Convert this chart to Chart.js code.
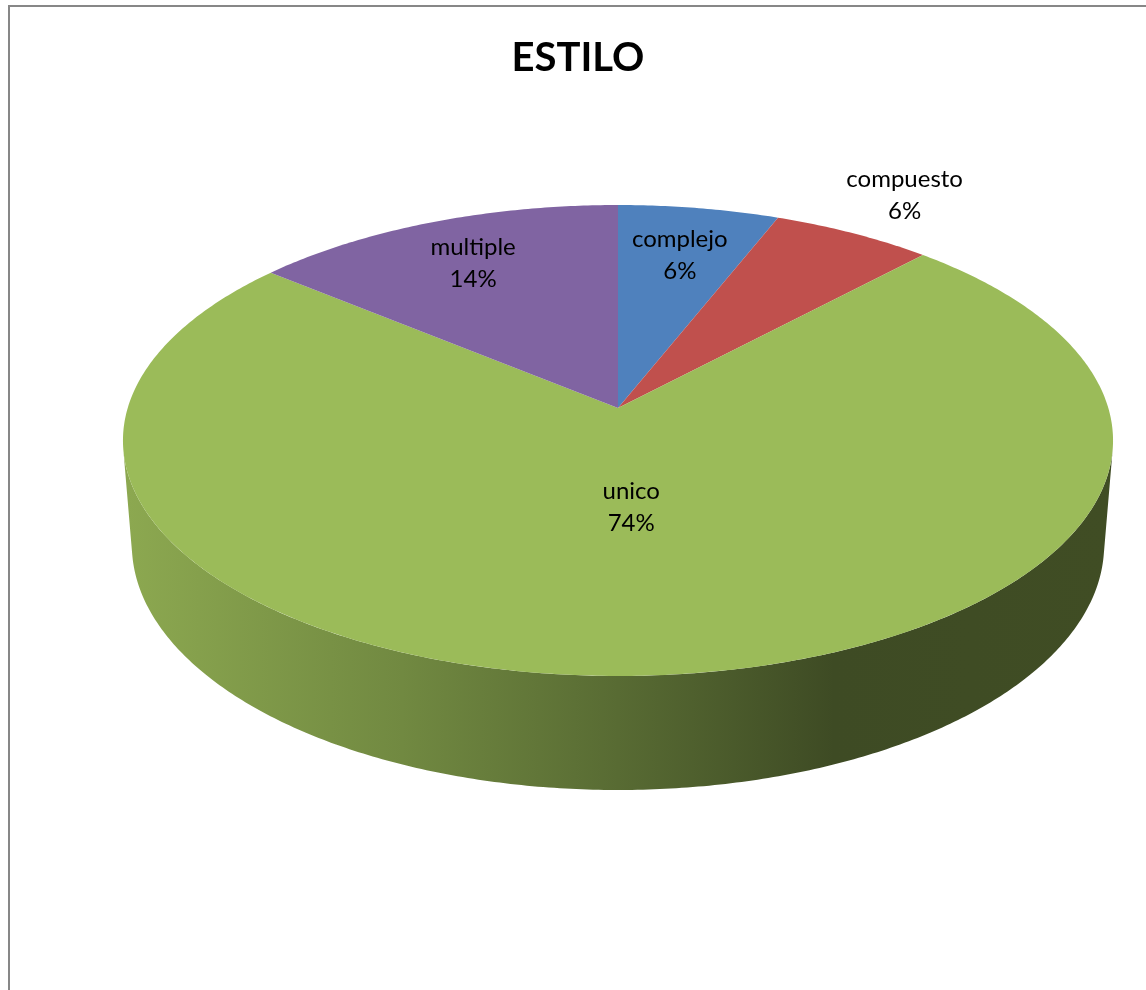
<!DOCTYPE html>
<html>
<head>
<meta charset="utf-8">
<script src="https://cdn.jsdelivr.net/npm/chart.js@4.4.1/dist/chart.umd.min.js"></script>
<style>
  html, body { margin: 0; padding: 0; background: #fff; overflow: hidden; }
  #frame { position: absolute; left: 8px; top: 5px; width: 1300px; height: 1200px;
           border: 2px solid #878787; box-sizing: border-box; }
  #wrap { position: absolute; left: 0; top: 0; width: 1146px; height: 990px; }
  #title { position: absolute; left: 0; top: 32px; width: 1156px; text-align: center;
           font: bold 40px/48px Lato, sans-serif; color: #000; }
</style>
</head>
<body>
<div id="frame"></div>
<div id="wrap"><canvas id="theChart" width="1146" height="990"></canvas></div>
<div id="title">ESTILO</div>
<script>
// ---- Data ----
const categories = ['complejo', 'compuesto', 'unico', 'multiple'];
const counts = [3, 3, 37, 7];

// ---- Look ----
const sliceColors = ['#4f81bd', '#c0504d', '#9bbb59', '#8064a2'];
// how far out along each slice its label sits (fraction of radius)
const labelRadius = [0.74, 1.25, 0.405, 0.76];
// side wall shading, left -> right (multiplier on slice colour)
const sideShade = [[0, 0.9], [0.28, 0.73], [0.5, 0.57], [0.72, 0.40], [1, 0.41]];

// 3D view: tilt of the pie plane, camera distance, focal length, wall height
const VIEW = { sin: 0.4711, cos: 0.8821, dist: 6.392, focal: 3134, height: 0.2431 };

const total = counts.reduce((a, b) => a + b, 0);

function shade(hex, k) {
  const n = parseInt(hex.slice(1), 16);
  const r = Math.round(((n >> 16) & 255) * k);
  const g = Math.round(((n >> 8) & 255) * k);
  const b = Math.round((n & 255) * k);
  return `rgb(${r},${g},${b})`;
}

// flat pie coords -> perspective screen coords (w = height above the top face, in radii)
function makeProjector(ox, oy, R) {
  const { sin: s, cos: c, dist: D, focal: F } = VIEW;
  return (px, py, w = 0) => {
    const u = (px - ox) / R, v = (py - oy) / R;
    const Y = v * s - w * c;
    const Z = D - v * c - w * s;
    return [ox + F * u / Z, oy + F * Y / Z];
  };
}

function sweepOf(a1, a2, ccw) {
  let sw = a2 - a1;
  if (ccw) { while (sw > 0) sw -= 2 * Math.PI; if (sw < -2 * Math.PI) sw = -2 * Math.PI; }
  else { while (sw < 0) sw += 2 * Math.PI; if (sw > 2 * Math.PI) sw = 2 * Math.PI; }
  return sw;
}

// angle where the wall's vertical edge is tangent to the rim (outline of the cylinder)
function outlineAngle(rim, wall, lo, hi) {
  const f = (a) => {
    const t0 = rim(a), t1 = rim(a + 1e-4), b = wall(a);
    const gx = b[0] - t0[0], gy = b[1] - t0[1];
    return (t1[0] - t0[0]) * gy - (t1[1] - t0[1]) * gx;
  };
  let fl = f(lo);
  for (let k = 0; k < 50; k++) {
    const m = (lo + hi) / 2, fm = f(m);
    if ((fm < 0) === (fl < 0)) { lo = m; fl = fm; } else hi = m;
  }
  return (lo + hi) / 2;
}

const pie3d = {
  id: 'pie3d',
  beforeDatasetsDraw(chart) {
    const ctx = chart.ctx;
    const arcs = chart.getDatasetMeta(0).data;
    if (!arcs.length) return;
    const ox = arcs[0].x, oy = arcs[0].y, R = arcs[0].outerRadius;
    const proj = makeProjector(ox, oy, R);
    const H = VIEW.height;
    const halfW = VIEW.focal / VIEW.dist;
    const rim = (a) => proj(ox + R * Math.cos(a), oy + R * Math.sin(a), 0);
    const wall = (a) => proj(ox + R * Math.cos(a), oy + R * Math.sin(a), -H);

    // visible front of the wall runs between the two outline angles
    const lo = outlineAngle(rim, wall, -0.6, 0.6);
    const hi = outlineAngle(rim, wall, Math.PI - 0.6, Math.PI + 0.6);
    arcs.forEach((arc, i) => {
      const p = arc.getProps(['startAngle', 'endAngle']);
      [-2 * Math.PI, 0, 2 * Math.PI].forEach((shift) => {
        const a1 = Math.max(p.startAngle + shift, lo);
        const a2 = Math.min(p.endAngle + shift, hi);
        if (a2 <= a1) return;
        const n = Math.max(4, Math.ceil((a2 - a1) / 0.01));
        ctx.beginPath();
        for (let k = 0; k <= n; k++) {
          const q = rim(a1 + (a2 - a1) * k / n);
          ctx.lineTo(q[0], q[1]);
        }
        for (let k = n; k >= 0; k--) {
          const q = wall(a1 + (a2 - a1) * k / n);
          ctx.lineTo(q[0], q[1]);
        }
        ctx.closePath();
        const grad = ctx.createLinearGradient(ox - halfW, 0, ox + halfW, 0);
        sideShade.forEach(([t, k]) => grad.addColorStop(t, shade(sliceColors[i], k)));
        ctx.fillStyle = grad;
        ctx.fill();
      });
    });

    // let Chart.js draw the slices, with its path calls sent through the projection
    const nativeLineTo = ctx.lineTo, nativeMoveTo = ctx.moveTo;
    ctx.moveTo = (x, y) => { const q = proj(x, y); nativeMoveTo.call(ctx, q[0], q[1]); };
    ctx.lineTo = (x, y) => { const q = proj(x, y); nativeLineTo.call(ctx, q[0], q[1]); };
    ctx.arc = (x, y, r, a1, a2, ccw) => {
      const sw = sweepOf(a1, a2, ccw);
      const n = Math.max(2, Math.ceil(Math.abs(sw) / 0.01));
      for (let k = 0; k <= n; k++) {
        const a = a1 + sw * k / n;
        const q = proj(x + r * Math.cos(a), y + r * Math.sin(a));
        nativeLineTo.call(ctx, q[0], q[1]);
      }
    };
  },
  afterDatasetsDraw(chart) {
    const ctx = chart.ctx;
    delete ctx.arc; delete ctx.lineTo; delete ctx.moveTo;

    const arcs = chart.getDatasetMeta(0).data;
    if (!arcs.length) return;
    const proj = makeProjector(arcs[0].x, arcs[0].y, arcs[0].outerRadius);
    ctx.save();
    ctx.font = '24px Lato';
    ctx.fillStyle = '#000';
    ctx.textAlign = 'center';
    ctx.textBaseline = 'middle';
    arcs.forEach((arc, i) => {
      const p = arc.getProps(['startAngle', 'endAngle', 'outerRadius', 'x', 'y']);
      const mid = (p.startAngle + p.endAngle) / 2;
      const f = labelRadius[i];
      const q = proj(p.x + Math.cos(mid) * p.outerRadius * f, p.y + Math.sin(mid) * p.outerRadius * f);
      const pct = Math.round(counts[i] / total * 100) + '%';
      ctx.fillText(categories[i], q[0], q[1] - 16);
      ctx.fillText(pct, q[0], q[1] + 16);
    });
    ctx.restore();
  }
};

const canvas = document.getElementById('theChart');
const chartObj = new Chart(canvas.getContext('2d'), {
  type: 'pie',
  data: {
    labels: categories,
    datasets: [{
      data: counts,
      backgroundColor: sliceColors,
      borderWidth: 0,
      clip: false
    }]
  },
  options: {
    responsive: false,
    devicePixelRatio: 1,
    animation: false,
    events: [],
    layout: { padding: { left: 90, right: 0, top: 0, bottom: 174 } },
    plugins: {
      legend: { display: false },
      tooltip: { enabled: false },
      title: { display: false }
    }
  },
  plugins: [pie3d]
});
</script>
</body>
</html>
